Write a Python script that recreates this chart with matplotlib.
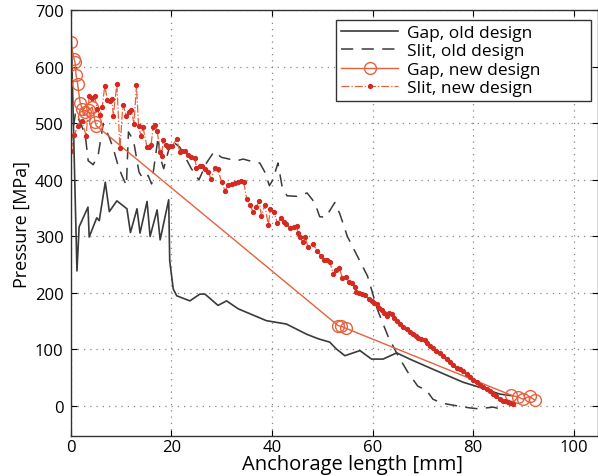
import matplotlib
matplotlib.use("Agg")
import matplotlib.pyplot as plt

# ---------------- data ----------------
gap_old_x = [0.1, 1.27, 1.7, 3.46, 3.7, 5.2, 5.7, 6.9, 7.7, 9.2, 11.2, 11.9, 13.2, 13.8, 15.2, 15.8,
             17.2, 17.8, 19.5, 19.7, 20.4, 21.1, 23.7, 25.7, 26.7, 29.3, 31.0, 33.3, 38.9, 42.9,
             44.9, 46.9, 49.2, 51.5, 52.8, 54.5, 57.5, 59.8, 62.1, 64.8, 67.4, 72.0, 78.0, 81.3,
             85.3, 87.9]
gap_old_y = [670, 239, 317, 352, 299, 333, 328, 396, 344, 363, 349, 307, 349, 306, 362, 300,
             347, 294, 365, 257, 207, 195, 186, 198, 198, 178, 186, 172, 151, 145,
             136, 127, 119, 113, 101, 89, 98, 83, 83, 94, 83, 65, 42, 33,
             21, 18]

slit_old_x = [0.0, 1.0, 2.9, 3.5, 4.5, 5.5, 6.5, 7.8, 8.5, 9.3, 10.1, 11.1, 11.5, 12.5, 13.6,
              14.4, 15.4, 16.1, 17.0, 17.4, 17.8, 18.5, 20.0, 21.7, 22.5, 24.0, 25.5, 27.0,
              28.5, 30.0, 31.0, 33.0, 34.3, 36.3, 37.6, 38.6, 39.5, 40.2, 41.2, 42.0, 43.0,
              45.0, 47.0, 48.5, 49.5, 50.7, 52.5, 53.5, 55.0, 57.0, 59.0, 61.0, 63.0, 65.0,
              67.0, 69.0, 70.7, 72.0, 73.5, 75.0, 77.0, 79.0, 81.0, 84.0, 86.5]
slit_old_y = [460, 520, 481, 434, 427, 445, 500, 473, 455, 430, 410, 390, 485, 470, 414,
              402, 408, 393, 450, 476, 440, 420, 470, 458, 445, 420, 400, 430,
              450, 440, 438, 434, 437, 432, 430, 414, 390, 400, 430, 390, 372,
              371, 377, 360, 335, 334, 360, 340, 300, 265, 230, 170, 125, 90,
              60, 35, 28, 12, 6, 3, 0, -3, -5, -2, -8]

gap_new_x = [0.0, 0.7, 0.9, 1.1, 1.4, 1.9, 2.3, 2.6, 2.9, 3.6, 4.3, 4.9, 5.1,
             53.2, 53.8, 54.7, 87.6, 88.9, 89.9, 91.2, 92.2]
gap_new_y = [644, 614, 608, 585, 570, 537, 526, 514, 520, 523, 529, 502, 496,
             142, 141, 137.5, 19, 16, 12, 17, 10.6]

slit_new_x = [0.1, 0.7, 1.5, 2.2, 3.1, 3.7, 4.2, 4.8, 5.3, 5.8, 6.3, 6.8, 7.3, 7.8, 8.2, 8.5,
              9.2, 9.8, 10.4, 11.1, 11.6, 12.1, 12.6, 13.1, 13.5, 14.0, 14.4, 15.2, 15.6, 16.0,
              16.4, 16.8, 17.2, 17.8, 18.1, 18.4, 19.0, 19.4, 20.2, 21.1, 21.7, 22.2, 22.7,
              23.3, 24.0, 24.7, 25.0, 25.7, 26.2, 26.7, 27.4, 27.9, 28.7, 29.3, 30.0, 30.7,
              31.3, 32.0, 32.6, 33.2, 33.8, 34.4, 35.0, 35.6, 36.3, 36.9, 37.5, 37.9, 38.6,
              39.3, 39.7, 40.4, 41.1, 41.9, 42.4, 42.8, 43.7, 44.3, 44.9, 45.2, 45.6, 46.1,
              46.6, 47.2, 48.1, 49.0, 49.8, 50.4, 50.9, 51.5, 52.2, 52.8, 53.4, 54.0, 54.7,
              55.4, 56.0, 56.5, 56.8, 57.4, 58.0, 58.6, 59.2, 59.8, 60.3, 60.8, 61.3, 61.8,
              62.3, 62.8, 63.3, 63.8, 64.3, 64.8, 65.4, 66.1, 66.8, 67.4, 68.1, 68.6, 69.1,
              69.7, 70.4, 70.9, 71.4, 72.0, 72.7, 73.4, 74.0, 74.7, 75.4, 76.0, 76.7, 77.4,
              78.0, 78.7, 79.3, 80.0, 80.7, 81.3, 82.0, 82.7, 83.3, 84.0, 84.6, 85.3, 85.9,
              86.4, 86.9, 87.4, 87.9]
slit_new_y = [452, 480, 496, 505, 478, 548, 545, 548, 525, 515, 530, 567, 542, 540, 543, 514,
              570, 456, 533, 514, 520, 523, 499, 568, 496, 478, 493, 458, 458, 462,
              493, 497, 487, 449, 443, 470, 462, 458, 460, 473, 449, 452, 452,
              445, 440, 438, 422, 425, 424, 419, 414, 402, 421, 419, 396, 381,
              391, 393, 394, 396, 399, 396, 366, 356, 343, 352, 363, 337, 355,
              320, 349, 343, 324, 332, 326, 322, 315, 317, 318, 307, 299, 290,
              299, 281, 287, 275, 265, 259, 259, 255, 234, 240, 245, 226, 228,
              219, 218, 210, 201, 200, 199, 196, 190, 185, 183, 180, 174, 169,
              165, 160, 165, 163, 156, 151, 145, 140, 136, 131, 127, 124, 121,
              118, 116, 111, 107, 103, 98, 93, 89, 83, 77, 72, 68, 65,
              62, 56, 51, 46, 42, 37, 33, 30, 27, 22, 18, 13, 9,
              8, 6.5, 5, 3.5]

labels = ["Gap, old design", "Slit, old design", "Gap, new design", "Slit, new design"]
x_ticks = [0, 20, 40, 60, 80, 100]
y_ticks = [0, 100, 200, 300, 400, 500, 600, 700]

# ---------------- style ----------------
plt.rcParams['font.family'] = ['Open Sans', 'DejaVu Sans']
RED_LINE = '#e8603c'
RED_DOT = '#d32a22'
DARK = '#3a3a3a'

fig = plt.figure(figsize=(5.98, 4.77), dpi=100)
ax = fig.add_axes([0.118, 0.084, 0.882, 0.892])

ax.plot(gap_old_x, gap_old_y, '-', color=DARK, lw=1.2, label=labels[0])
ax.plot(slit_old_x, slit_old_y, '--', color=DARK, lw=1.1, dashes=(8, 5.5), label=labels[1])
ax.plot(gap_new_x, gap_new_y, '-', color=RED_LINE, lw=1.0, marker='o', ms=8.5,
        mfc='none', mec=RED_LINE, mew=1.0, label=labels[2])
ax.plot(slit_new_x, slit_new_y, '-.', color=RED_LINE, lw=0.9, marker='o', ms=2.8,
        mfc=RED_DOT, mec=RED_DOT, label=labels[3])

ax.set_xlim(0, 104.8)
ax.set_ylim(-53, 700)
ax.set_xticks(x_ticks)
ax.set_yticks(y_ticks)
ax.tick_params(direction='in', top=True, right=True, labelsize=12, length=4, width=0.8)
ax.tick_params(axis='x', pad=2)
ax.tick_params(axis='y', pad=5)
ax.grid(True, linestyle=(0, (1, 4)), color='#888888', lw=0.9)
for s in ax.spines.values():
    s.set_linewidth(1.0)
    s.set_color('#333333')

ax.set_xlabel("Anchorage length [mm]", fontsize=14.5)
ax.xaxis.set_label_coords(0.535, -0.042)
ax.set_ylabel("Pressure [MPa]", fontsize=13, labelpad=3)

leg = ax.legend(loc='upper left', bbox_to_anchor=(0.503, 0.0, 0.483, 0.978), mode='expand',
                fontsize=12.5, frameon=True, fancybox=False, edgecolor='#333333',
                framealpha=1, handlelength=3.3, borderpad=0.3, labelspacing=0.12,
                handletextpad=0.5, borderaxespad=0.0)
leg.get_frame().set_linewidth(1.0)

fig.savefig("out.png", dpi=100)
